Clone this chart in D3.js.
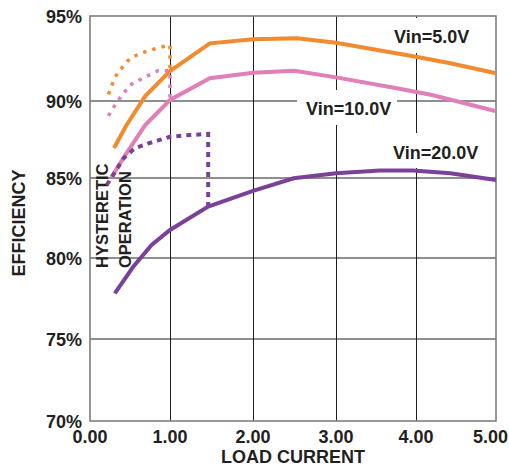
<!DOCTYPE html>
<html>
<head>
<meta charset="utf-8">
<script src="https://cdn.jsdelivr.net/npm/d3@7"></script>
<style>
  body { margin: 0; background: #fff; }
  svg { display: block; }
</style>
</head>
<body>
<div id="chart"></div>
<script>
var width = 509,
    height = 466;

// axis ticks
var xTicks = [0, 1, 2, 3, 4, 5];
var yTicks = [70, 75, 80, 85, 90, 95];

// solid curves (load current, efficiency %)
var vin5 = [[0.30, 86.95], [0.45, 88.38], [0.69, 90.29], [1.00, 91.76], [1.48, 93.39], [2.00, 93.63],
    [2.53, 93.69], [3.00, 93.43], [4.00, 92.60], [4.43, 92.22], [5.00, 91.63]];
var vin10 = [[0.27, 85.06], [0.44, 86.49], [0.69, 88.44], [1.00, 90.06], [1.48, 91.34], [2.00, 91.66],
    [2.50, 91.78], [3.00, 91.39], [3.76, 90.75], [4.20, 90.35], [4.99, 89.35]];
var vin20 = [[0.31, 77.82], [0.54, 79.46], [0.77, 80.81], [1.00, 81.75], [1.46, 83.21], [2.00, 84.20],
    [2.49, 84.98], [3.00, 85.31], [3.55, 85.48], [3.96, 85.48], [4.43, 85.31], [5.00, 84.88]];

// hysteretic (dotted) curves
var hyst5 = [[0.23, 90.39], [0.27, 90.9], [0.34, 91.63], [0.50, 92.51], [0.65, 92.84], [0.83, 93.10],
    [1.00, 93.29], [1.00, 91.76]];
var hyst10 = [[0.23, 89.03], [0.34, 89.96], [0.42, 90.45], [0.50, 90.94], [0.68, 91.39], [0.85, 91.78],
    [1.00, 91.78], [1.00, 90.06]];
var hyst20 = [[0.21, 84.56], [0.42, 86.28], [0.56, 86.93], [0.74, 87.26], [0.87, 87.47], [1.00, 87.68],
    [1.24, 87.79], [1.46, 87.86], [1.46, 83.21]];

var seriesNames = ["Vin=5.0V", "Vin=10.0V", "Vin=20.0V"];
var colors = ["#f28a30", "#e07fb8", "#7a4199"];

var svg = d3.select("#chart").append("svg")
    .attr("width", width)
    .attr("height", height);

// the original grid is slightly uneven, so use piecewise scales
var xScale = d3.scaleLinear()
    .domain(xTicks)
    .range([90, 170, 253, 336, 416, 496]);
var yScale = d3.scaleLinear()
    .domain(yTicks)
    .range([421, 339, 258, 178, 101, 16]);

var ink = "#231f20";
var font = "'Liberation Sans', Arial, sans-serif";

var grid = svg.append("g");

// horizontal grid
grid.selectAll(".hgrid")
    .data(yTicks.slice(1, -1))
    .enter()
    .append("line")
    .attr("x1", xScale(0))
    .attr("x2", xScale(5))
    .attr("y1", d => yScale(d))
    .attr("y2", d => yScale(d))
    .attr("stroke", "#6a6a6a")
    .attr("stroke-width", 1.4);

// vertical grid
grid.selectAll(".vgrid")
    .data(xTicks.slice(1, -1))
    .enter()
    .append("line")
    .attr("x1", d => xScale(d) + 0.5)
    .attr("x2", d => xScale(d) + 0.5)
    .attr("y1", yScale(95))
    .attr("y2", yScale(70))
    .attr("stroke", "#1e1e1e")
    .attr("stroke-width", 1);

// frame
grid.append("rect")
    .attr("x", xScale(0))
    .attr("y", yScale(95))
    .attr("width", xScale(5) - xScale(0))
    .attr("height", yScale(70) - yScale(95))
    .attr("fill", "none")
    .attr("stroke", "#7d7d7d")
    .attr("stroke-width", 1.6);

// white patches behind the series labels (the grid is broken there)
var labelBoxes = [[388, 18, 90, 35], [297, 90, 100, 35], [388, 133, 96, 35]];
svg.selectAll(".labelbg")
    .data(labelBoxes)
    .enter()
    .append("rect")
    .attr("x", d => d[0])
    .attr("y", d => d[1])
    .attr("width", d => d[2])
    .attr("height", d => d[3])
    .attr("fill", "#fff");

// tick labels
svg.selectAll(".ytick")
    .data(yTicks)
    .enter()
    .append("text")
    .attr("x", 82)
    .attr("y", d => yScale(d) + 1)
    .attr("dy", "0.35em")
    .attr("text-anchor", "end")
    .attr("font-family", font)
    .attr("font-weight", "bold")
    .attr("font-size", 18)
    .attr("fill", ink)
    .text(d => d + "%");

svg.selectAll(".xtick")
    .data(xTicks)
    .enter()
    .append("text")
    .attr("x", (d, i) => i == xTicks.length - 1 ? width - 1 : xScale(d))
    .attr("y", 443)
    .attr("text-anchor", (d, i) => i == xTicks.length - 1 ? "end" : "middle")
    .attr("font-family", font)
    .attr("font-weight", "bold")
    .attr("font-size", 18)
    .attr("fill", ink)
    .text(d3.format(".2f"));

// axis titles
svg.append("text")
    .attr("x", 293)
    .attr("y", 463)
    .attr("text-anchor", "middle")
    .attr("font-family", font)
    .attr("font-weight", "bold")
    .attr("font-size", 18)
    .attr("fill", ink)
    .text("LOAD CURRENT");

svg.append("text")
    .attr("transform", "translate(25,223) rotate(-90)")
    .attr("text-anchor", "middle")
    .attr("font-family", font)
    .attr("font-weight", "bold")
    .attr("font-size", 18)
    .attr("fill", ink)
    .text("EFFICIENCY");

// hysteretic note
var note = [["HYSTERETIC", 107.5], ["OPERATION", 131]];
svg.selectAll(".note")
    .data(note)
    .enter()
    .append("text")
    .attr("transform", d => "translate(" + d[1] + ",268) rotate(-90)")
    .attr("font-family", font)
    .attr("font-weight", "bold")
    .attr("font-size", 16.5)
    .attr("fill", ink)
    .text(d => d[0]);

// curves
var line = d3.line()
    .x(d => xScale(d[0]))
    .y(d => yScale(d[1]));

var solid = [vin5, vin10, vin20];
var dotted = [hyst5, hyst10, hyst20];

svg.selectAll(".solid")
    .data(solid)
    .enter()
    .append("path")
    .attr("d", line)
    .attr("fill", "none")
    .attr("stroke", (d, i) => colors[i])
    .attr("stroke-width", 4);

svg.selectAll(".dotted")
    .data(dotted)
    .enter()
    .append("path")
    .attr("d", line)
    .attr("fill", "none")
    .attr("stroke", (d, i) => colors[i])
    .attr("stroke-width", (d, i) => i == 2 ? 4 : 3.5)
    .attr("stroke-dasharray", (d, i) => i == 2 ? "5,5" : "3.5,6");

// series labels
var labelPos = [[394, 43], [306, 115], [393, 159]];
svg.selectAll(".slabel")
    .data(seriesNames)
    .enter()
    .append("text")
    .attr("x", (d, i) => labelPos[i][0])
    .attr("y", (d, i) => labelPos[i][1])
    .attr("font-family", font)
    .attr("font-weight", "bold")
    .attr("font-size", 18)
    .attr("fill", ink)
    .text(d => d);
</script>
</body>
</html>
